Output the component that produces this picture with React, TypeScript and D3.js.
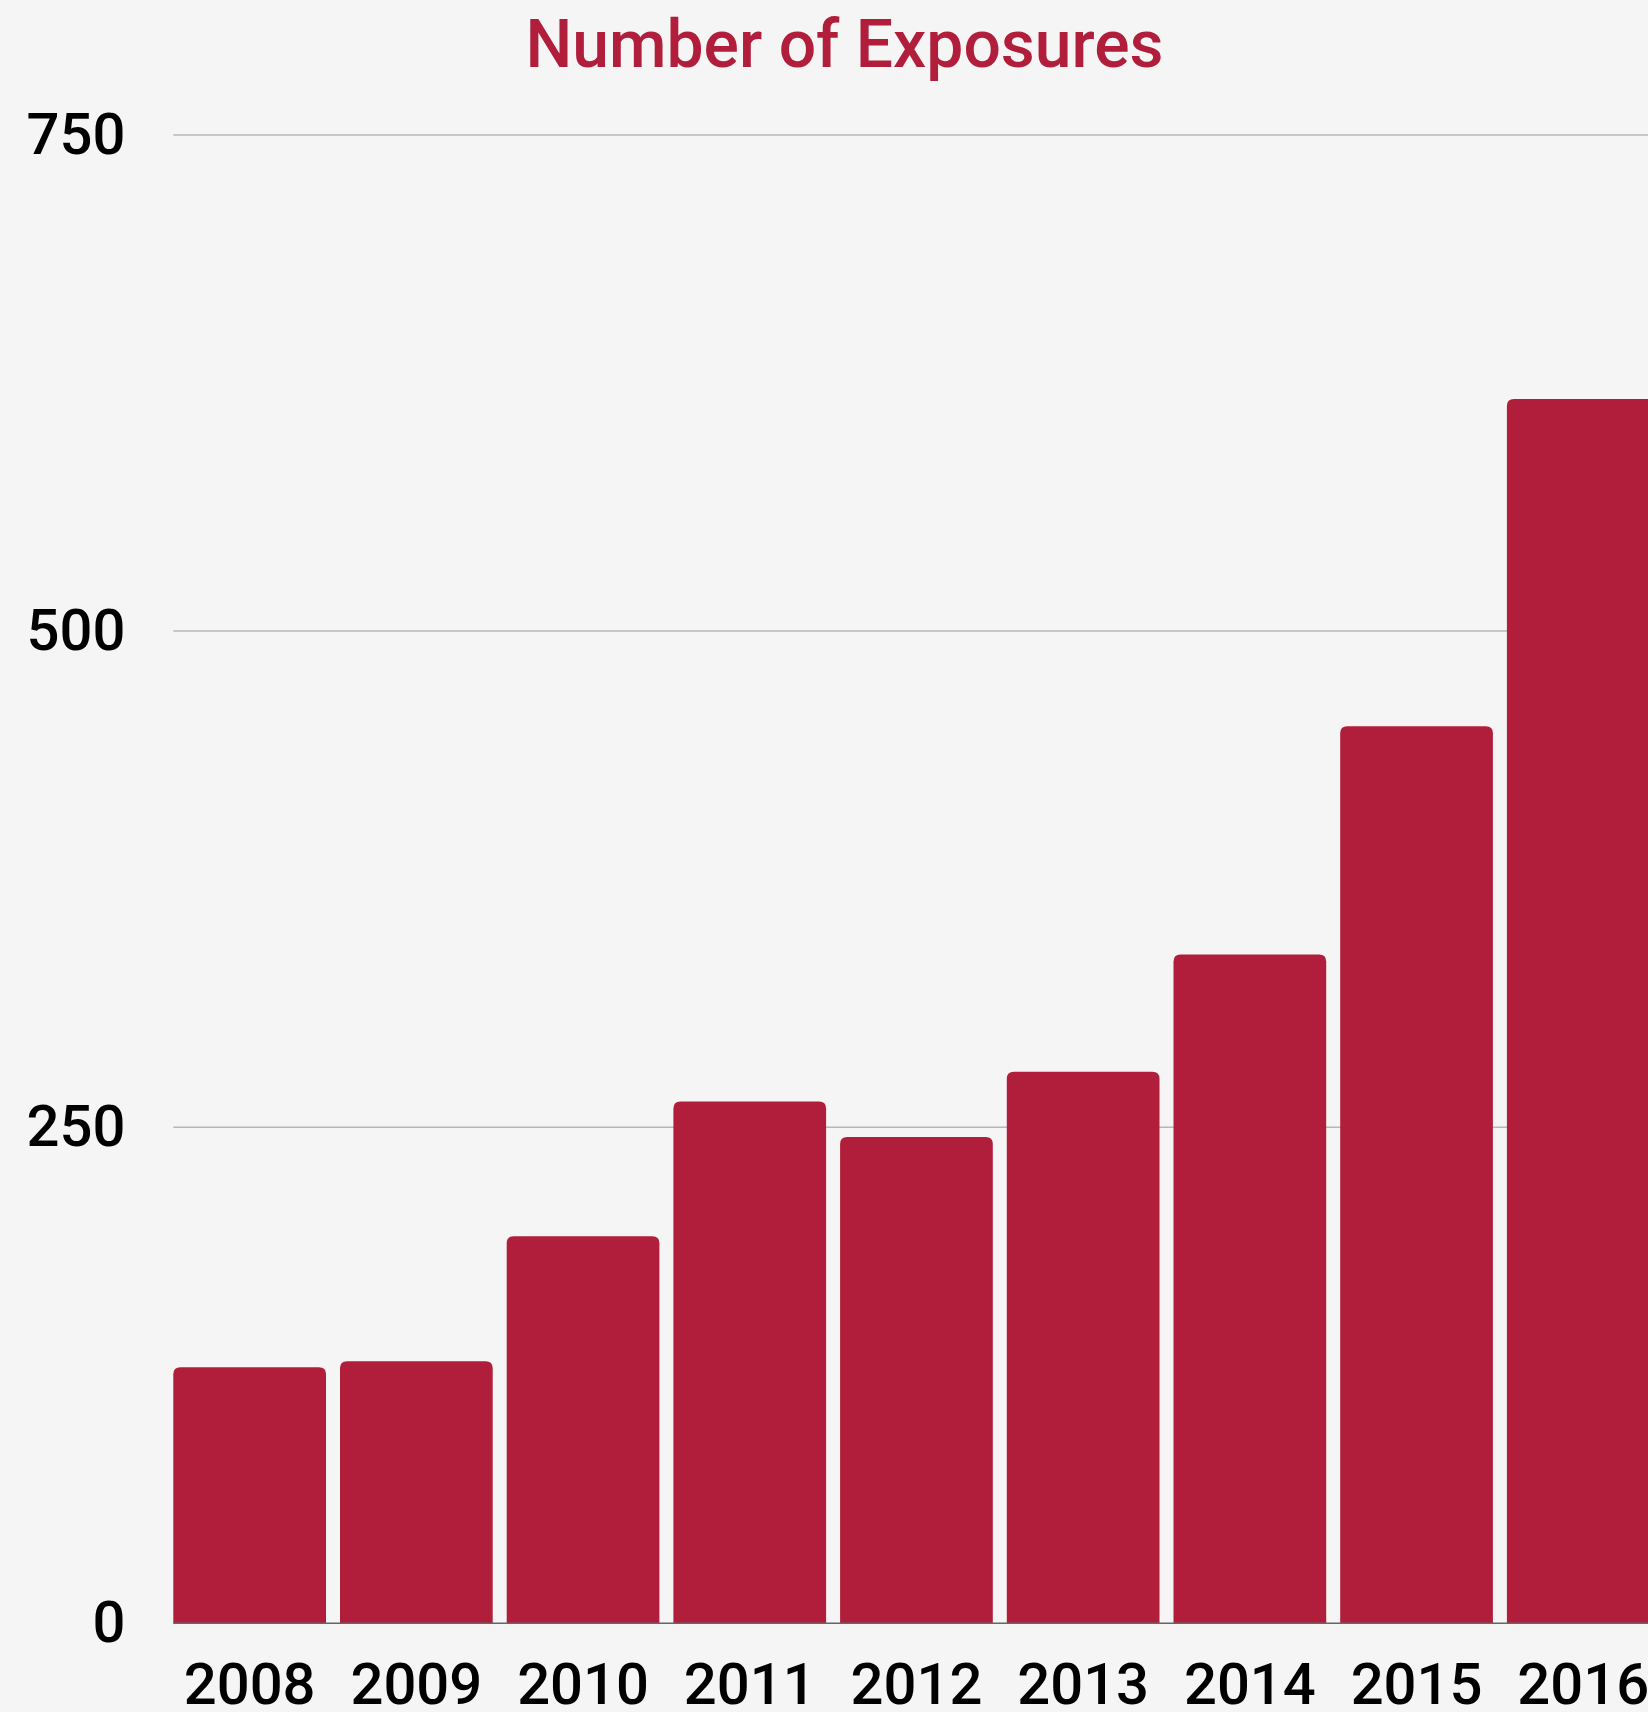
import { useEffect, useRef } from 'react';
import * as d3 from 'd3';

const years = ['2008', '2009', '2010', '2011', '2012', '2013', '2014', '2015', '2016'];
const exposures = [129, 132, 195, 263, 245, 278, 337, 452, 617];
const yTicks = [0, 250, 500, 750];

const BAR = '#b11e3b';
const BG = '#f5f5f5';

export default function App() {
  const svgRef = useRef<SVGSVGElement>(null);

  useEffect(() => {
    document.body.style.margin = '0';
    if (!svgRef.current) return;

    const width = 1648;
    const height = 1712;
    const left = 173.3;
    const bottom = 1623.3;
    const top = 135;

    const svg = d3.select(svgRef.current);
    svg.selectAll('*').remove();
    svg.attr('width', width).attr('height', height);

    svg.append('rect').attr('width', width).attr('height', height).attr('fill', BG);

    const x = d3.scaleBand<string>()
      .domain(years)
      .range([left, left + 9 * 166.7 - 14])
      .paddingInner(0.084)
      .paddingOuter(0);

    const y = d3.scaleLinear().domain([0, 750]).range([bottom, top]);

    // gridlines
    svg.append('g')
      .selectAll('line')
      .data(yTicks.filter((d) => d > 0))
      .enter()
      .append('line')
      .attr('x1', left)
      .attr('x2', width)
      .attr('y1', (d) => y(d))
      .attr('y2', (d) => y(d))
      .attr('stroke', '#b7b7b7')
      .attr('stroke-width', 1.5);

    // bars with slightly rounded top corners
    const r = 7;
    const barPath = (i: number) => {
      const x0 = x(years[i]) ?? 0;
      const w = x.bandwidth();
      const y0 = y(exposures[i]);
      return `M${x0},${bottom}V${y0 + r}Q${x0},${y0} ${x0 + r},${y0}H${x0 + w - r}Q${x0 + w},${y0} ${x0 + w},${y0 + r}V${bottom}Z`;
    };
    svg.append('g')
      .selectAll('path')
      .data(exposures)
      .enter()
      .append('path')
      .attr('d', (_, i) => barPath(i))
      .attr('fill', BAR);

    // baseline
    svg.append('line')
      .attr('x1', left)
      .attr('x2', width)
      .attr('y1', bottom)
      .attr('y2', bottom)
      .attr('stroke', '#666666')
      .attr('stroke-width', 1.5);

    // y axis labels
    svg.append('g')
      .attr('transform', `translate(125.5,0)`)
      .call(d3.axisLeft(y).tickValues(yTicks).tickSize(0).tickPadding(0).tickFormat((d) => String(d)))
      .call((gg) => {
        gg.select('.domain').remove();
        gg.selectAll('text')
          .attr('fill', '#000')
          .attr('font-family', 'Roboto, sans-serif')
          .attr('font-weight', 500)
          .attr('font-size', '58px')
          .attr('dy', '0.32em');
      });

    // x axis labels
    svg.append('g')
      .attr('transform', `translate(0,${bottom})`)
      .call(d3.axisBottom(x).tickSize(0).tickPadding(0))
      .call((gg) => {
        gg.select('.domain').remove();
        gg.selectAll('text')
          .attr('fill', '#000')
          .attr('font-family', 'Roboto, sans-serif')
          .attr('font-weight', 500)
          .attr('font-size', '58px')
          .attr('dy', null)
          .attr('y', 81);
      });

    // title
    svg.append('text')
      .attr('x', 844.5)
      .attr('y', 66.7)
      .attr('text-anchor', 'middle')
      .attr('fill', BAR)
      .attr('font-family', 'Roboto, sans-serif')
      .attr('font-weight', 500)
      .attr('font-size', '66px')
      .text('Number of Exposures');
  }, []);

  return (
    <svg
      ref={svgRef}
      style={{ position: 'absolute', left: 0, top: 0, display: 'block', overflow: 'hidden' }}
    />
  );
}
